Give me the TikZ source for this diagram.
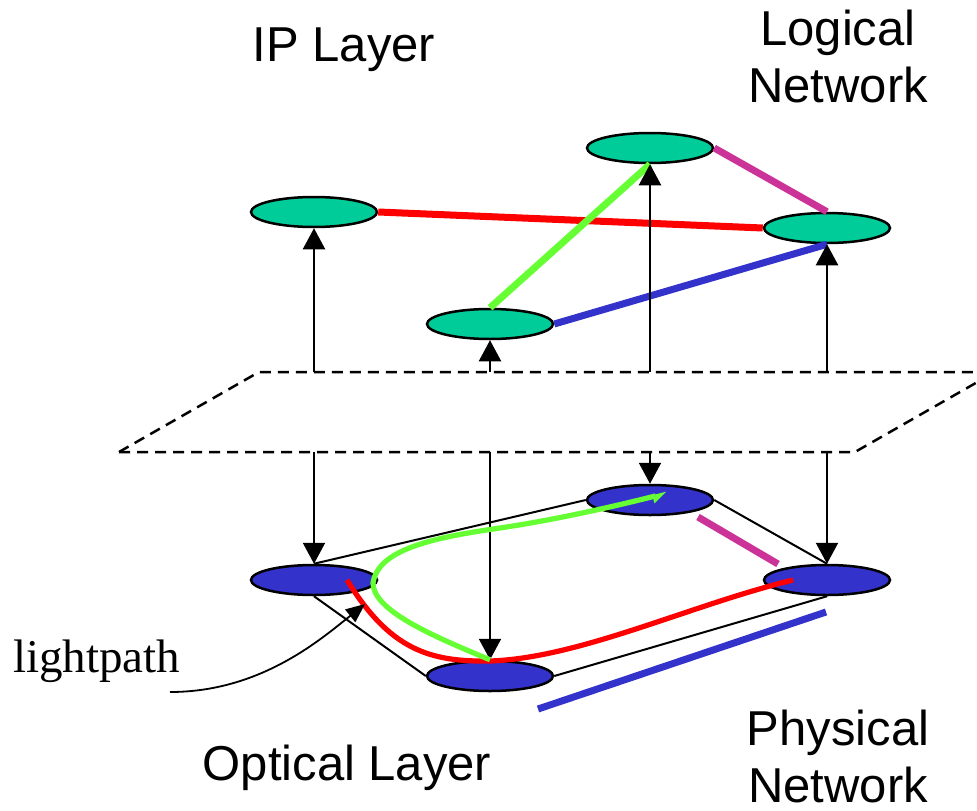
\documentclass[tikz,border=0pt]{standalone}
\usepackage{fontspec}
\setmainfont{Liberation Serif}
\newfontfamily\arialf{Liberation Sans}
\usetikzlibrary{shapes.geometric,arrows.meta}
\definecolor{topgreen}{HTML}{00CC99}
\definecolor{botblue}{HTML}{3333CC}
\definecolor{lred}{HTML}{FF0000}
\definecolor{lgreen}{HTML}{66FF33}
\definecolor{lblue}{HTML}{3333CC}
\definecolor{lmag}{HTML}{CC3399}
\begin{document}
\begin{tikzpicture}[x=1pt,y=-1pt,
  topnode/.style={ellipse, draw, line width=2.5pt, fill=topgreen, minimum width=126pt, minimum height=30pt, inner sep=0pt},
  botnode/.style={ellipse, draw, line width=2.5pt, fill=botblue, minimum width=126pt, minimum height=30pt, inner sep=0pt},
  lbl/.style={font=\arialf\fontsize{49}{57}\selectfont, inner sep=0pt, align=center},
  vlink/.style={line width=2.3pt, -{Triangle[width=22pt,length=21pt]}},
  plink/.style={line width=2pt},
  logic/.style={line width=7pt},
  plane/.style={line width=2.5pt, dash pattern=on 11pt off 7pt},
]
\useasboundingbox (0,0) rectangle (977,811);
\clip (0,0) rectangle (977,811);

% labels
\node[lbl, anchor=base] (iplayer) at (344,61) {IP Layer};
\node[lbl, anchor=base] (logical) at (838,102) {Logical\\Network};
\node[lbl, anchor=base] (optical) at (347,780) {Optical Layer};
\node[lbl, anchor=base] (physical) at (838,802) {Physical\\Network};
\node[font=\fontsize{47}{50}\selectfont, inner sep=0pt, anchor=base west] (lp) at (13,672) {lightpath};

% dashed plane
\coordinate (pbl) at (119,452);
\coordinate (ptl) at (259,372);
\coordinate (ptr) at (1000,372);
\coordinate (pbr) at (855,452);
\coordinate (pbr2) at (995,372);
\draw[plane] (pbl) -- (ptl) -- (ptr);
\draw[plane] (pbl) -- (pbr) -- (pbr2);

% top (logical) nodes
\node[topnode] (E1) at (314,212) {};
\node[topnode] (E2) at (490,324) {};
\node[topnode] (E3) at (650,148) {};
\node[topnode] (E4) at (827,228) {};

% bottom (physical) nodes
\node[botnode] (B1) at (314,580) {};
\node[botnode] (B2) at (490,676) {};
\node[botnode] (B3) at (650,500) {};
\node[botnode] (B4) at (827,580) {};

% logical links
\draw[logic, lred] (E1.east) -- (E4.west);
\draw[logic, lgreen] (E2.north) -- (E3.south);
\draw[logic, lblue] (E2.east) -- (E4.south);
\draw[logic, lmag] (E3.east) -- (E4.north);

% up arrows
\coordinate (u1) at (314,372);
\coordinate (u2) at (490,372);
\coordinate (u3) at (650,372);
\coordinate (u4) at (827,372);
\draw[vlink] (u1) -- (E1.south);
\draw[vlink] (u2) -- (E2.south);
\draw[vlink] (u3) -- (E3.south);
\draw[vlink] (u4) -- (E4.south);

% down arrows
\coordinate (d1) at (314,452);
\coordinate (d2) at (490,452);
\coordinate (d3) at (650,452);
\coordinate (d4) at (827,452);
\draw[vlink] (d1) -- (B1.north);
\draw[vlink] (d2) -- (B2.north);
\draw[vlink] (d3) -- (B3.north);
\draw[vlink] (d4) -- (B4.north);

% physical links
\draw[plink] (B1.north) -- (B3.west);
\draw[plink] (B3.east) -- (B4.north);
\draw[plink] (B1.south) -- (B2.west);
\draw[plink] (B2.east) -- (B4.south);

% lightpaths
\coordinate (rs) at (347,580);
\coordinate (rm) at (490,661);
\coordinate (re) at (793,580);
\draw[line width=5.2pt, lred] (rs) .. controls (390,650) and (430,662) .. (rm)
   .. controls (580,658) and (690,605) .. (re);
\coordinate (gl) at (373,583);
\coordinate (gm) at (500,528);
\coordinate (ge) at (667,493);
\draw[line width=5.2pt, lgreen, -{Triangle[length=12pt,width=13pt,harpoon,swap]}]
  (B2.north) .. controls (430,635) and (373,610) .. (gl)
  .. controls (378,550) and (430,538) .. (gm)
  .. controls (560,519) and (620,505) .. (ge);

% parallel colored segments at bottom
\coordinate (m1) at (698,517);
\coordinate (m2) at (778,564);
\draw[logic, lmag] (m1) -- (m2);
\coordinate (b1) at (538,709);
\coordinate (b2) at (826,612);
\draw[logic, lblue] (b1) -- (b2);

% lightpath pointer
\coordinate (lps) at (170,692);
\coordinate (lpe) at (365,604);
\draw[line width=1.8pt, -{Triangle[width=16pt,length=19pt]}] (lps) .. controls (260,692) and (320,640) .. (lpe);
\end{tikzpicture}
\end{document}
